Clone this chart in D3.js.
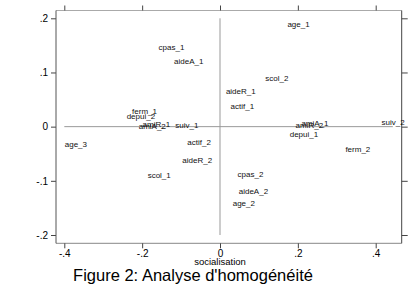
<!DOCTYPE html>
<html>
<head>
<meta charset="utf-8">
<script src="https://cdn.jsdelivr.net/npm/d3@7"></script>
<style>
html,body{margin:0;padding:0;background:#fff;}
svg{display:block;}
text{font-family:"Liberation Sans",Arial,sans-serif;}
</style>
</head>
<body>
<svg id="chart" width="410" height="285"></svg>
<script>
const labels = ["age_1","cpas_1","aideA_1","scol_2","aideR_1","actif_1","ferm_1","depui_2","amiR_1","amiA_2","suiv_1","amiA_1","amiR_2","suiv_2","depui_1","age_3","actif_2","aideR_2","scol_1","ferm_2","cpas_2","aideA_2","age_2"];
const xValues = [0.168,-0.163,-0.123,0.111,0.010,0.022,-0.231,-0.245,-0.204,-0.214,-0.120,0.204,0.189,0.410,0.174,-0.404,-0.089,-0.102,-0.191,0.317,0.040,0.043,0.0275];
const yValues = [0.190,0.147,0.120,0.090,0.065,0.0375,0.028,0.019,0.005,0.000,0.002,0.007,0.002,0.008,-0.0135,-0.033,-0.029,-0.062,-0.090,-0.041,-0.087,-0.120,-0.142];
const xTicks = [-0.4,-0.2,0,0.2,0.4];
const yTicks = [-0.2,-0.1,0,0.1,0.2];
const xTickLabels = ["-.4","-.2","0",".2",".4"];
const yTickLabels = ["-.2","-.1","0",".1",".2"];
const xTitle = "socialisation";
const caption = "Figure 2: Analyse d'homogénéité";

const svg = d3.select("#chart");
const box = {left:56, right:401.7, top:10.5, bottom:243.3};
const x = d3.scaleLinear().domain([-0.4,0.4]).range([64.3,375.7]);
const y = d3.scaleLinear().domain([-0.2,0.2]).range([235,18.3]);

// plot border
svg.append("line").attr("x1",box.left).attr("x2",box.right).attr("y1",box.top).attr("y2",box.top).attr("stroke","#aaa").attr("stroke-width",1);
svg.append("line").attr("x1",box.left).attr("x2",box.right).attr("y1",box.bottom).attr("y2",box.bottom).attr("stroke","#888").attr("stroke-width",1);

// reference lines
svg.append("line").attr("x1",x(0)).attr("x2",x(0)).attr("y1",y(0.2)).attr("y2",y(-0.2)).attr("stroke","#999").attr("stroke-width",1);
svg.append("line").attr("x1",x(-0.4)).attr("x2",x(0.444)).attr("y1",y(0)).attr("y2",y(0)).attr("stroke","#999").attr("stroke-width",1);

// axes
const fmtX = (d,i)=>xTickLabels[i];
const fmtY = (d,i)=>yTickLabels[i];
const bottomAx = svg.append("g").attr("transform",`translate(0,${box.bottom})`)
  .call(d3.axisBottom(x).tickValues(xTicks).tickFormat(fmtX).tickSize(5).tickPadding(2));
const topAx = svg.append("g").attr("transform",`translate(0,${box.top})`)
  .call(d3.axisTop(x).tickValues(xTicks).tickFormat("").tickSize(5));
const leftAx = svg.append("g").attr("transform",`translate(${box.left},0)`)
  .call(d3.axisLeft(y).tickValues(yTicks).tickFormat(fmtY).tickSize(5).tickPadding(3));
const rightAx = svg.append("g").attr("transform",`translate(${box.right},0)`)
  .call(d3.axisRight(y).tickValues(yTicks).tickFormat("").tickSize(6));
[bottomAx,topAx,leftAx,rightAx].forEach(g=>{
  g.select(".domain").remove();
  g.selectAll(".tick line").attr("stroke","#444");
  g.selectAll("text").attr("fill","#000").style("font-size","10px").style("font-family","Liberation Sans, Arial, sans-serif");
});
// vertical axis lines
svg.append("line").attr("x1",box.left).attr("x2",box.left).attr("y1",box.top).attr("y2",box.bottom).attr("stroke","#555");
svg.append("line").attr("x1",box.right).attr("x2",box.right).attr("y1",box.top).attr("y2",box.bottom).attr("stroke","#444");

// labels
svg.append("g").selectAll("text").data(labels).join("text")
  .attr("x",(d,i)=>x(xValues[i])+2)
  .attr("y",(d,i)=>y(yValues[i]))
  .attr("dy","0.35em")
  .attr("font-size",8)
  .attr("fill","#111")
  .text(d=>d);

svg.append("text").attr("x",x(0)).attr("y",265).attr("text-anchor","middle").attr("font-size",9.5).attr("fill","#000").text(xTitle);
svg.append("text").attr("x",193).attr("y",280.5).attr("text-anchor","middle").attr("font-size",16.5).attr("fill","#000").text(caption);
</script>
</body>
</html>
